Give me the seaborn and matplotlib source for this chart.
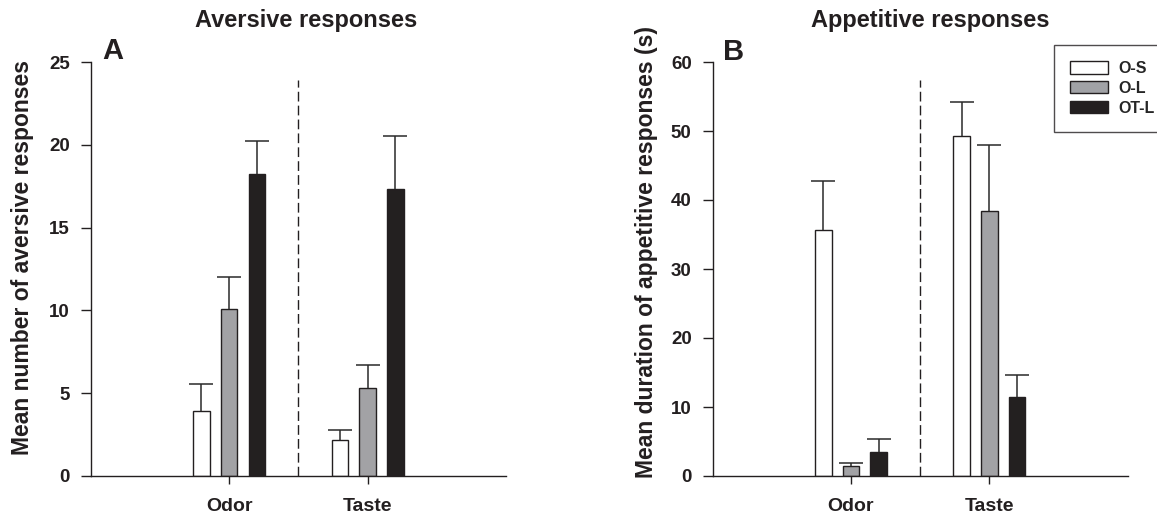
import numpy as np
import pandas as pd
import matplotlib
matplotlib.use("Agg")
import matplotlib.pyplot as plt
from matplotlib.patches import Patch
from matplotlib.container import BarContainer
import seaborn as sns

# data
stimuli = ["Odor", "Taste"]
groups = ["O-S", "O-L", "OT-L"]

# panel A: mean number of aversive responses (rows = group, cols = stimulus)
aversive_mean = [[3.9, 2.15], [10.1, 5.3], [18.25, 17.35]]
aversive_sem = [[1.65, 0.6], [1.9, 1.4], [1.95, 3.2]]

# panel B: mean duration of appetitive responses (s)
appetitive_mean = [[35.7, 49.3], [1.4, 38.4], [3.5, 11.4]]
appetitive_sem = [[7.0, 4.85], [0.5, 9.5], [1.8, 3.2]]

colors = {"O-S": "#ffffff", "O-L": "#a1a2a6", "OT-L": "#231f20"}
edge = "#231f20"


def to_frame(means):
    rows = []
    for g, vals in zip(groups, means):
        for s, v in zip(stimuli, vals):
            rows.append({"stimulus": s, "group": g, "mean": v})
    return pd.DataFrame(rows)


def draw_panel(ax, means, sems, ymax, step):
    df = to_frame(means)
    sns.barplot(data=df, x="stimulus", y="mean", hue="group", order=stimuli,
                hue_order=groups, palette=colors, width=0.6, gap=0.4,
                edgecolor=edge, linewidth=1.0, errorbar=None, legend=False,
                ax=ax)
    # upper error bars only
    bars = [c for c in ax.containers if isinstance(c, BarContainer)]
    for i, cont in enumerate(bars):
        for j, bar in enumerate(cont):
            xc = bar.get_x() + bar.get_width() / 2
            eb = ax.errorbar([xc], [bar.get_height()],
                             yerr=[[0], [sems[i][j]]], fmt="none",
                             ecolor="#2a2a2a", elinewidth=1.1, capsize=8.5,
                             capthick=1.1, zorder=1)
            eb[1][0].set_visible(False)  # no cap at the bar top
    ax.axvline(0.5, ymin=0, ymax=0.957, color="#231f20", lw=1.0,
               ls=(0, (7, 3)))
    ax.set_xlim(-1, 2)
    ax.set_ylim(0, ymax)
    ax.set_yticks(np.arange(0, ymax + 1, step))
    ax.set_xlabel("")
    ax.set_ylabel("")
    sns.despine(ax=ax)
    for sp in ["left", "bottom"]:
        ax.spines[sp].set_linewidth(1.0)
        ax.spines[sp].set_color("#231f20")
    ax.tick_params(axis="y", length=7, width=1.0, pad=8, labelsize=13.5,
                   color="#231f20")
    ax.tick_params(axis="x", length=6, width=1.0, pad=10, labelsize=14,
                   color="#231f20")
    for lab in ax.get_xticklabels() + ax.get_yticklabels():
        lab.set_fontweight("bold")
        lab.set_color("#231f20")


sns.set_style("ticks")
plt.rcParams["font.family"] = ["Liberation Sans", "DejaVu Sans"]
plt.rcParams["font.weight"] = "bold"

W, H = 1157, 514
fig = plt.figure(figsize=(W / 100, H / 100), dpi=100)
axA = fig.add_axes([90.7 / W, 1 - 476 / H, 415.3 / W, 414 / H])
axB = fig.add_axes([712.5 / W, 1 - 476 / H, 415.3 / W, 414 / H])

draw_panel(axA, aversive_mean, aversive_sem, 25, 5)
draw_panel(axB, appetitive_mean, appetitive_sem, 60, 10)

txt = "#231f20"
fig.text(306 / W, 1 - 27 / H, "Aversive responses", ha="center",
         va="baseline", fontsize=17, fontweight="bold", color=txt)
fig.text(930 / W, 1 - 27 / H, "Appetitive responses", ha="center",
         va="baseline", fontsize=17, fontweight="bold", color=txt)
fig.text(102 / W, 1 - 59 / H, "A", ha="left", va="baseline", fontsize=21,
         fontweight="bold", color=txt)
fig.text(723 / W, 1 - 60 / H, "B", ha="left", va="baseline", fontsize=21,
         fontweight="bold", color=txt)
fig.text(23 / W, 1 - 257.5 / H, "Mean number of aversive responses",
         rotation=90, ha="center", va="center", fontsize=16.5,
         fontweight="bold", color=txt)
fig.text(647 / W, 1 - 252.5 / H, "Mean duration of appetitive responses (s)",
         rotation=90, ha="center", va="center", fontsize=16.5,
         fontweight="bold", color=txt)

handles = [Patch(facecolor=colors[g], edgecolor=edge, linewidth=1.0)
           for g in groups]
leg = fig.legend(handles, groups, loc="upper left",
                 bbox_to_anchor=(1054 / W, 1 - 45 / H),
                 bbox_transform=fig.transFigure,
                 prop={"weight": "bold", "size": 11.5},
                 handlelength=2.4, handleheight=0.8, labelspacing=0.3,
                 handletextpad=0.6, borderpad=1.0, borderaxespad=0,
                 frameon=True, fancybox=False)
leg.get_frame().set_edgecolor("#231f20")
leg.get_frame().set_linewidth(1.0)

fig.savefig("out.png", dpi=100)
